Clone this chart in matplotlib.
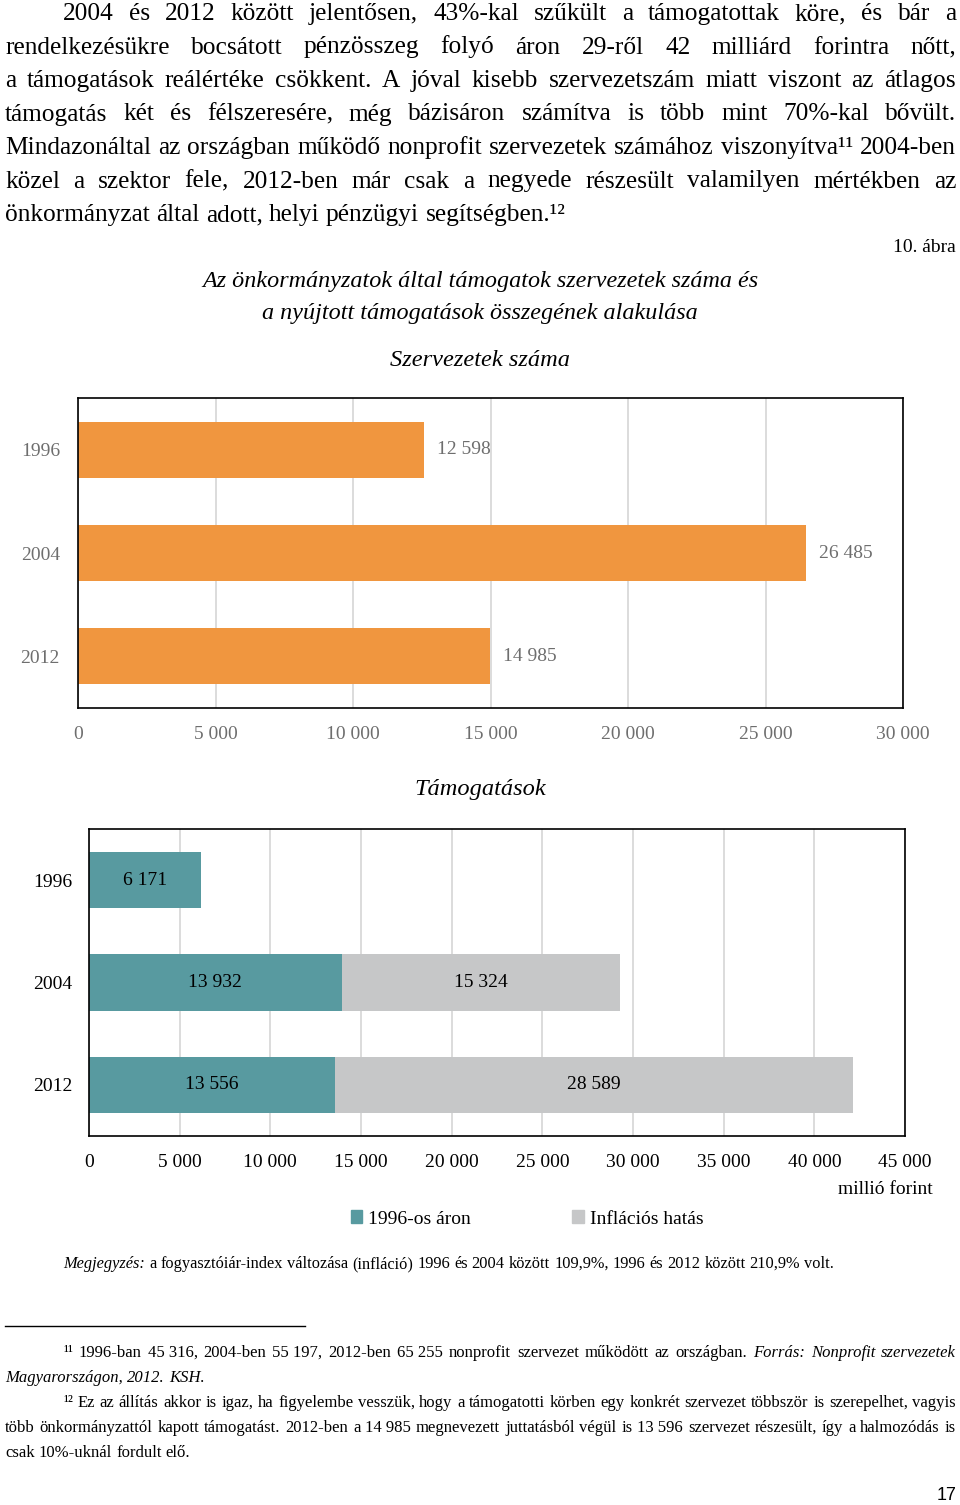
# Import Packages
import matplotlib
matplotlib.use("Agg")
import matplotlib.pyplot as plt
from matplotlib.patches import Patch

plt.rcParams['font.family'] = ['Liberation Serif', 'DejaVu Serif']

# Data
years = ["1996", "2004", "2012"]
org_counts = [12598, 26485, 14985]          # Szervezetek száma
support_base = [6171, 13932, 13556]         # 1996-os áron
support_infl = [0, 15324, 28589]            # Inflációs hatás
org_ticks = [0, 5000, 10000, 15000, 20000, 25000, 30000]
support_ticks = [0, 5000, 10000, 15000, 20000, 25000, 30000, 35000, 40000, 45000]
legend_labels = ["1996-os áron", "Inflációs hatás"]

ORANGE = "#F0963F"
TEAL = "#589AA0"
GREY = "#C6C7C8"
GRID = "#D9D9D9"
LABEL_GREY = "#6E6E6E"

W, H = 960, 1505
fig = plt.figure(figsize=(W / 100, H / 100), dpi=100)
renderer = fig.canvas.get_renderer()


def fx(px):
    return px / W


def fy(py):
    return 1 - py / H


def fmt(v):
    return f"{v:,}".replace(",", " ")


def text_line(line, left, right, base, size, justify=True):
    # words starting with '*' are italic, '\u00a0' keeps numbers together
    objs = []
    for w in line.split(" "):
        style = "normal"
        if w.startswith("*"):
            style, w = "italic", w[1:]
        objs.append(fig.text(0, fy(base), w, fontsize=size, style=style,
                             va="baseline", ha="left"))
    widths = [t.get_window_extent(renderer).width for t in objs]
    if justify and len(objs) > 1:
        gap = (right - left - sum(widths)) / (len(objs) - 1)
    else:
        gap = size * 0.25 * 100 / 72
    x = left
    for t, w in zip(objs, widths):
        t.set_x(fx(x))
        x += w + gap


# Body paragraph (justified)
body = [
    "2004 és 2012 között jelentősen, 43%-kal szűkült a támogatottak köre, és bár a",
    "rendelkezésükre bocsátott pénzösszeg folyó áron 29-ről 42 milliárd forintra nőtt,",
    "a támogatások reálértéke csökkent. A jóval kisebb szervezetszám miatt viszont az átlagos",
    "támogatás két és félszeresére, még bázisáron számítva is több mint 70%-kal bővült.",
    "Mindazonáltal az országban működő nonprofit szervezetek számához viszonyítva¹¹ 2004-ben",
    "közel a szektor fele, 2012-ben már csak a negyede részesült valamilyen mértékben az",
    "önkormányzat által adott, helyi pénzügyi segítségben.¹²",
]
for i, line in enumerate(body):
    text_line(line, 63 if i == 0 else 5, 956, 20 + i * 33.5, 18.3,
              justify=(i < len(body) - 1))

# Titles
fig.text(fx(956), fy(247), "10. ábra", fontsize=14, ha="right", va="center")
fig.text(fx(480), fy(281), "Az önkormányzatok által támogatok szervezetek száma és",
         fontsize=17.4, style="italic", ha="center", va="center")
fig.text(fx(480), fy(314), "a nyújtott támogatások összegének alakulása",
         fontsize=17.4, style="italic", ha="center", va="center")
fig.text(fx(480), fy(360), "Szervezetek száma", fontsize=17.6, style="italic",
         ha="center", va="center")
fig.text(fx(480), fy(790), "Támogatások", fontsize=17.6, style="italic",
         ha="center", va="center")

# Chart 1: Szervezetek száma
ax1 = fig.add_axes([fx(78), fy(708), 825 / W, 310 / H])
pos = list(range(len(years)))
bars1 = ax1.barh(pos, org_counts, height=0.54, color=ORANGE)
ax1.bar_label(bars1, labels=[fmt(v) for v in org_counts], padding=9,
              fontsize=14, color=LABEL_GREY)
ax1.set_xlim(0, 30000)
ax1.set_ylim(2.5, -0.5)
ax1.set_xticks(org_ticks)
ax1.set_xticklabels([fmt(v) for v in org_ticks])
ax1.set_yticks(pos)
ax1.set_yticklabels(years)
ax1.tick_params(length=0, labelsize=14, labelcolor=LABEL_GREY)
ax1.tick_params(axis="x", pad=13)
ax1.tick_params(axis="y", pad=13)
ax1.xaxis.grid(True, color=GRID, lw=1.3)
ax1.set_axisbelow(True)
for s in ax1.spines.values():
    s.set_color("black")
    s.set_linewidth(1.2)

# Chart 2: Támogatások
ax2 = fig.add_axes([fx(89), fy(1136), 816 / W, 307 / H])
bars_a = ax2.barh(pos, support_base, height=0.55, color=TEAL)
bars_b = ax2.barh(pos, support_infl, left=support_base, height=0.55, color=GREY)
ax2.bar_label(bars_a, labels=[fmt(v) for v in support_base], label_type="center",
              fontsize=14, color="black")
ax2.bar_label(bars_b, labels=[fmt(v) if v else "" for v in support_infl],
              label_type="center", fontsize=14, color="black")
ax2.set_xlim(0, 45000)
ax2.set_ylim(2.5, -0.5)
ax2.set_xticks(support_ticks)
ax2.set_xticklabels([fmt(v) for v in support_ticks])
ax2.set_yticks(pos)
ax2.set_yticklabels(years)
ax2.tick_params(length=0, labelsize=14, labelcolor="black")
ax2.tick_params(axis="x", pad=13)
ax2.tick_params(axis="y", pad=12)
ax2.xaxis.grid(True, color=GRID, lw=1.3)
ax2.set_axisbelow(True)
for s in ax2.spines.values():
    s.set_color("black")
    s.set_linewidth(1.2)

fig.text(fx(933), fy(1189), "millió forint", fontsize=14, ha="right", va="center")

fig.legend(handles=[Patch(color=TEAL), Patch(color=GREY)], labels=legend_labels,
           loc="center", bbox_to_anchor=(fx(527), fy(1219)), ncol=2, frameon=False,
           fontsize=14, handlelength=0.6, handleheight=0.6, handletextpad=0.3,
           columnspacing=5.2)

# Note
text_line("*Megjegyzés: a fogyasztóiár-index változása (infláció) 1996 és 2004 "
          "között 109,9%, 1996 és 2012 között 210,9% volt.",
          63, 956, 1268, 11.8, justify=False)

# Footnote separator
fig.add_artist(plt.Line2D([fx(5), fx(305)], [fy(1326), fy(1326)],
                          color="black", lw=1))

# Footnotes
notes = [
    ("¹¹ 1996-ban 45\u00a0316, 2004-ben 55\u00a0197, 2012-ben 65\u00a0255 nonprofit "
     "szervezet működött az országban. *Forrás: *Nonprofit *szervezetek", 63, True),
    ("*Magyarországon, *2012. *KSH.", 5, False),
    ("¹² Ez az állítás akkor is igaz, ha figyelembe vesszük, hogy a támogatotti "
     "körben egy konkrét szervezet többször is szerepelhet, vagyis", 63, True),
    ("több önkormányzattól kapott támogatást. 2012-ben a 14\u00a0985 megnevezett "
     "juttatásból végül is 13\u00a0596 szervezet részesült, így a halmozódás is", 5, True),
    ("csak 10%-uknál fordult elő.", 5, False),
]
for i, (line, left, just) in enumerate(notes):
    text_line(line, left, 956, 1357 + i * 25, 12, justify=just)

# Page number
fig.text(fx(956), fy(1495), "17", fontsize=13, family="Liberation Sans",
         ha="right", va="center")

fig.savefig("out.png", dpi=100)
